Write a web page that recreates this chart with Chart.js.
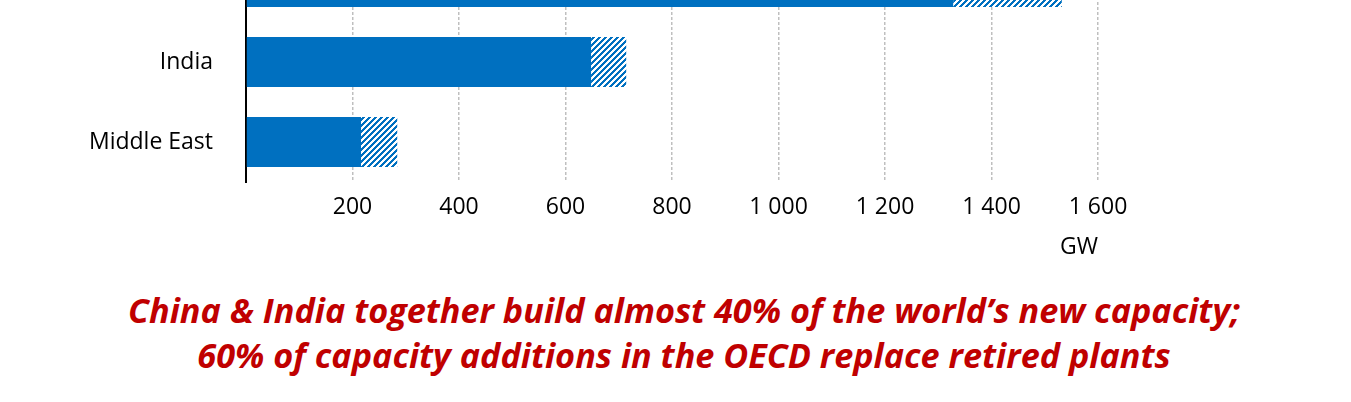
<!DOCTYPE html>
<html>
<head>
<meta charset="utf-8">
<script src="https://cdn.jsdelivr.net/npm/chart.js@4"></script>
<style>
  html, body { margin: 0; padding: 0; background: #fff; }
  body { width: 1351px; height: 402px; overflow: hidden; position: relative; }
  #wrap { position: absolute; left: 0; top: -109px; width: 1351px; height: 379px; }
  #caption {
    position: absolute; left: 0; top: 287px; width: 1368px;
    text-align: center; color: #C00000;
    font-family: "Open Sans", sans-serif; font-weight: bold; font-style: italic;
    font-size: 31px; line-height: 45px; white-space: nowrap;
  }
</style>
</head>
<body>
<div id="wrap"><canvas id="chart"></canvas></div>
<div id="caption"><span id="line1">China &amp; India together build almost 40% of the world’s new capacity;</span><br><span>60% of capacity additions in the OECD replace retired plants</span></div>
<script>
// Dados (GW)
const regions = ['China', 'India', 'Middle East'];
const demandGrowth = [1328, 648, 216];
const retirements = [204, 66, 68];
const xTicks = [0, 200, 400, 600, 800, 1000, 1200, 1400, 1600];

const blue = '#0070C0';

// padrão hachurado azul/branco
function makeHatch() {
    const size = 6;
    const c = document.createElement('canvas');
    c.width = size; c.height = size;
    const g = c.getContext('2d');
    g.fillStyle = '#fff';
    g.fillRect(0, 0, size, size);
    g.fillStyle = blue;
    for (let x = 0; x < size; x++) {
        for (let y = 0; y < size; y++) {
            if ((x + y) % size < 3) g.fillRect(x, y, 1, 1);
        }
    }
    return g.createPattern(c, 'repeat');
}

function fmt(v) {
    if (v === 0) return '';
    if (v >= 1000) return Math.floor(v / 1000) + ' ' + String(v % 1000).padStart(3, '0');
    return String(v);
}

const font = { family: '"Open Sans", sans-serif', size: 23 };

document.fonts.ready.then(function () {
    // ajustar a largura da legenda
    const cap = document.getElementById('caption');
    const w = document.getElementById('line1').getBoundingClientRect().width;
    cap.style.fontSize = (31 * 1112 / w) + 'px';

    const ctx = document.getElementById('chart').getContext('2d');
    new Chart(ctx, {
        type: 'bar',
        data: {
            labels: regions,
            datasets: [{
                label: 'Capacity to meet demand growth',
                data: demandGrowth,
                backgroundColor: blue,
                borderWidth: 0,
            },
            {
                label: 'Replacement of retired plants',
                data: retirements,
                backgroundColor: makeHatch(),
                borderWidth: 0,
            }],
        },
        options: {
            indexAxis: 'y',
            responsive: true,
            maintainAspectRatio: false,
            animation: false,
            layout: { padding: { top: 51, right: 253, bottom: 0, left: 0 } },
            datasets: { bar: { categoryPercentage: 1, barPercentage: 0.625 } },
            plugins: {
                legend: { display: false },
                tooltip: { enabled: false },
            },
            scales: {
                x: {
                    stacked: true,
                    min: xTicks[0],
                    max: xTicks[xTicks.length - 1],
                    afterBuildTicks: function (scale) {
                        scale.ticks = xTicks.map(v => ({ value: v }));
                    },
                    afterFit: function (scale) { scale.height = 88; },
                    grid: {
                        color: c => (c.tick && c.tick.value === 0) ? 'rgba(0,0,0,0)' : '#BFBFBF',
                        lineWidth: 1.5,
                        drawTicks: false,
                    },
                    border: { display: false, dash: [3, 2] },
                    ticks: {
                        color: '#000',
                        font: font,
                        padding: 12,
                        maxRotation: 0,
                        autoSkip: false,
                        callback: v => fmt(v),
                    },
                    title: {
                        display: true,
                        text: 'GW',
                        align: 'end',
                        color: '#000',
                        font: font,
                        padding: { top: 0, bottom: 9 },
                    },
                },
                y: {
                    stacked: true,
                    afterFit: function (scale) { scale.width = 246; },
                    grid: { display: false, drawTicks: false },
                    border: { display: true, color: '#000', width: 2 },
                    ticks: { color: '#000', font: font, padding: 33 },
                },
            },
        },
    });
});
</script>
</body>
</html>
